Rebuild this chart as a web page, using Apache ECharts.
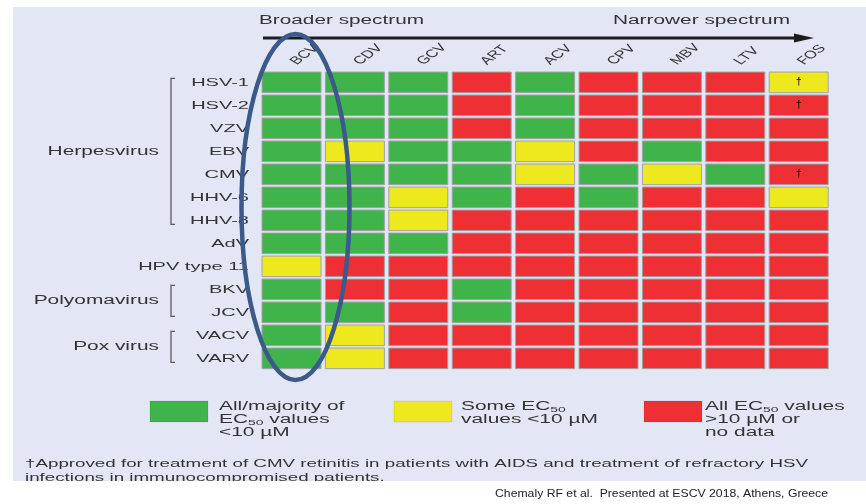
<!DOCTYPE html>
<html><head><meta charset="utf-8">
<script src="https://cdn.jsdelivr.net/npm/echarts/dist/echarts.min.js"></script>
<style>html,body{margin:0;padding:0;background:#fff}#c{width:866px;height:504px}</style>
</head><body><div id="c"></div>
<script>
// ---- data ----
const drugs = ['BCV','CDV','GCV','ART','ACV','CPV','MBV','LTV','FOS'];
const viruses = ['HSV-1','HSV-2','VZV','EBV','CMV','HHV-6','HHV-8','AdV','HPV type 11','BKV','JCV','VACV','VARV'];
// 2 = all/majority EC50 <10 µM (green), 1 = some EC50 <10 µM (yellow), 0 = all >10 µM or no data (red)
const BCV = [2,2,2,2,2,2,2,2,1,2,2,2,2];
const CDV = [2,2,2,1,2,2,2,2,0,0,2,1,1];
const GCV = [2,2,2,2,2,1,1,2,0,0,0,0,0];
const ART = [0,0,0,2,2,2,0,0,0,2,2,0,0];
const ACV = [2,2,2,1,1,0,0,0,0,0,0,0,0];
const CPV = [0,0,0,0,2,2,0,0,0,0,0,0,0];
const MBV = [0,0,0,2,1,0,0,0,0,0,0,0,0];
const LTV = [0,0,0,0,2,0,0,0,0,0,0,0,0];
const FOS = [1,0,0,0,0,1,0,0,0,0,0,0,0];
const drugValues = [BCV,CDV,GCV,ART,ACV,CPV,MBV,LTV,FOS];
const daggerCells = [['FOS','HSV-1'],['FOS','HSV-2'],['FOS','CMV']];
const groupNames = ['Herpesvirus','Polyomavirus','Pox virus'];
const groupFrom = ['HSV-1','BKV','VACV'];
const groupTo = ['HHV-8','JCV','VARV'];
const legendLabels = ['All/majority of\nEC{s|50} values\n<10 µM','Some EC{s|50}\nvalues <10 µM','All EC{s|50} values\n>10 µM or\nno data'];
const topLeftText = 'Broader spectrum';
const topRightText = 'Narrower spectrum';
const footLines = ['†Approved for treatment of CMV retinitis in patients with AIDS and treatment of refractory HSV','infections in immunocompromised patients.'];
const citation = 'Chemaly RF et al.  Presented at ESCV 2018, Athens, Greece';

// ---- style ----
const FAM = '"Liberation Sans", Arial, Helvetica, sans-serif';
const SX = 1.74;
const TXT = '#333333';
const COLORS = ['#ee2f33','#eee91e','#3fb44a'];
const BG = '#e3e7f5';

const chart = echarts.init(document.getElementById('c'), null, {renderer:'canvas'});
const cellData = [];
drugValues.forEach((arr,i)=>arr.forEach((v,j)=>cellData.push([i,j,v])));
const daggerData = daggerCells.map(d=>[drugs.indexOf(d[0]), viruses.indexOf(d[1])]);

chart.setOption({
  backgroundColor:'#ffffff',
  animation:false,
  grid:{left:259.8, top:70.85, width:570.6, height:299, containLabel:false, outerBoundsMode:'none'},
  xAxis:{type:'category', data:drugs, position:'top', axisLine:{show:false}, axisTick:{show:false}, axisLabel:{show:false}, splitLine:{show:false}},
  yAxis:{type:'category', data:viruses, inverse:true, axisLine:{show:false}, axisTick:{show:false}, axisLabel:{show:false}, splitLine:{show:false}},
  series:[{
    type:'custom', z:3, data:cellData, encode:{x:0,y:1},
    renderItem:function(params, api){
      const c = api.coord([api.value(0), api.value(1)]);
      const s = api.size([1,1]);
      const w = s[0]-4.4, h = s[1]-2.4;
      return {type:'rect', shape:{x:c[0]-w/2, y:c[1]-h/2, width:w, height:h},
        style:{fill:COLORS[api.value(2)], stroke:'#a2a2a6', lineWidth:1}};
    }
  },{
    type:'custom', z:4, data:daggerData, encode:{x:0,y:1},
    renderItem:function(params, api){
      const c = api.coord([api.value(0), api.value(1)]);
      return {type:'text', x:c[0], y:c[1]-0.5, style:{text:'†', font:'bold 10px '+FAM, fill:'#111', align:'center', verticalAlign:'middle'}};
    }
  }]
});

const mctx = document.createElement('canvas').getContext('2d');
function fit(text, font, w){ mctx.font = font; return w / mctx.measureText(text).width; }
const px = d => chart.convertToPixel({xAxisIndex:0}, d);
const py = v => chart.convertToPixel({yAxisIndex:0}, v);

const G = [];
// background panel
G.push({type:'rect', z:0, shape:{x:13, y:7, width:853, height:474}, style:{fill:BG}});
// top texts & arrow
const f12 = '12px '+FAM;
G.push({type:'text', z:10, x:259, y:21, scaleX:fit(topLeftText,f12,165), style:{text:topLeftText, font:f12, fill:TXT, align:'left', verticalAlign:'middle'}});
G.push({type:'text', z:10, x:613, y:21, scaleX:fit(topRightText,f12,177), style:{text:topRightText, font:f12, fill:TXT, align:'left', verticalAlign:'middle'}});
G.push({type:'line', z:10, shape:{x1:263, y1:38, x2:798, y2:38}, style:{stroke:'#1c1c1c', lineWidth:3}});
G.push({type:'polygon', z:10, shape:{points:[[794,33.5],[814,38],[794,42.5]]}, style:{fill:'#1c1c1c'}});
// column labels (rotated, stretched)
const fx = '11px '+FAM;
drugs.forEach(d=>{
  G.push({type:'group', z:10, x:px(d)+8, y:67, scaleX:1.5, children:[
    {type:'text', z:10, rotation:Math.PI*0.27, style:{text:d, font:fx, fill:TXT, align:'left', verticalAlign:'bottom'}}
  ]});
});
// row labels
const fy = '11.5px '+FAM;
viruses.forEach(v=>{
  G.push({type:'text', z:10, x:249, y:py(v), scaleX:SX, style:{text:v, font:fy, fill:TXT, align:'right', verticalAlign:'middle'}});
});
// group brackets + labels
groupNames.forEach((g,k)=>{
  const y1 = py(groupFrom[k]) - 4, y2 = py(groupTo[k]) + 4;
  G.push({type:'polyline', z:10, shape:{points:[[175,y1],[171,y1],[171,y2],[175,y2]]}, style:{stroke:'#5a5a5a', lineWidth:1.3, fill:null}});
  G.push({type:'text', z:10, x:159, y:(y1+y2)/2, scaleX:SX, style:{text:g, font:f12, fill:TXT, align:'right', verticalAlign:'middle'}});
});
// legend
const legBoxX = [150, 394, 644];
const legTextX = [219, 461, 705];
legendLabels.forEach((t,k)=>{
  G.push({type:'rect', z:10, shape:{x:legBoxX[k], y:401, width:58, height:21}, style:{fill:COLORS[2-k], stroke:'rgba(0,0,0,0.08)', lineWidth:1}});
  G.push({type:'text', z:10, x:legTextX[k], y:400.5, scaleX:SX, style:{text:t, font:f12, fill:TXT, align:'left', verticalAlign:'top', lineHeight:13,
    rich:{s:{font:'8px '+FAM, fill:TXT, verticalAlign:'bottom', lineHeight:13}}}});
});
// footnote
const ff = '11px '+FAM;
const fsx = fit(footLines[0], ff, 783);
G.push({type:'text', z:10, x:25, y:464, scaleX:fsx, style:{text:footLines[0], font:ff, fill:TXT, align:'left', verticalAlign:'middle'}});
G.push({type:'text', z:10, x:25, y:478, scaleX:fsx, style:{text:footLines[1], font:ff, fill:TXT, align:'left', verticalAlign:'middle'}});
G.push({type:'rect', z:30, shape:{x:0, y:481, width:866, height:23}, style:{fill:'#ffffff'}});
// citation
const fc = '10px "Liberation Sans Narrow", "Liberation Sans", Arial, sans-serif';
G.push({type:'text', z:31, x:495, y:494, scaleX:fit(citation, fc, 333), style:{text:citation, font:fc, fill:'#222', align:'left', verticalAlign:'middle'}});
// highlight ellipse around BCV
G.push({type:'ellipse', z:20, shape:{cx:px('BCV')+4, cy:207, rx:54, ry:173}, style:{fill:null, stroke:'#3b5a89', lineWidth:4.5}});

chart.setOption({graphic:{elements:G}});
</script></body></html>
